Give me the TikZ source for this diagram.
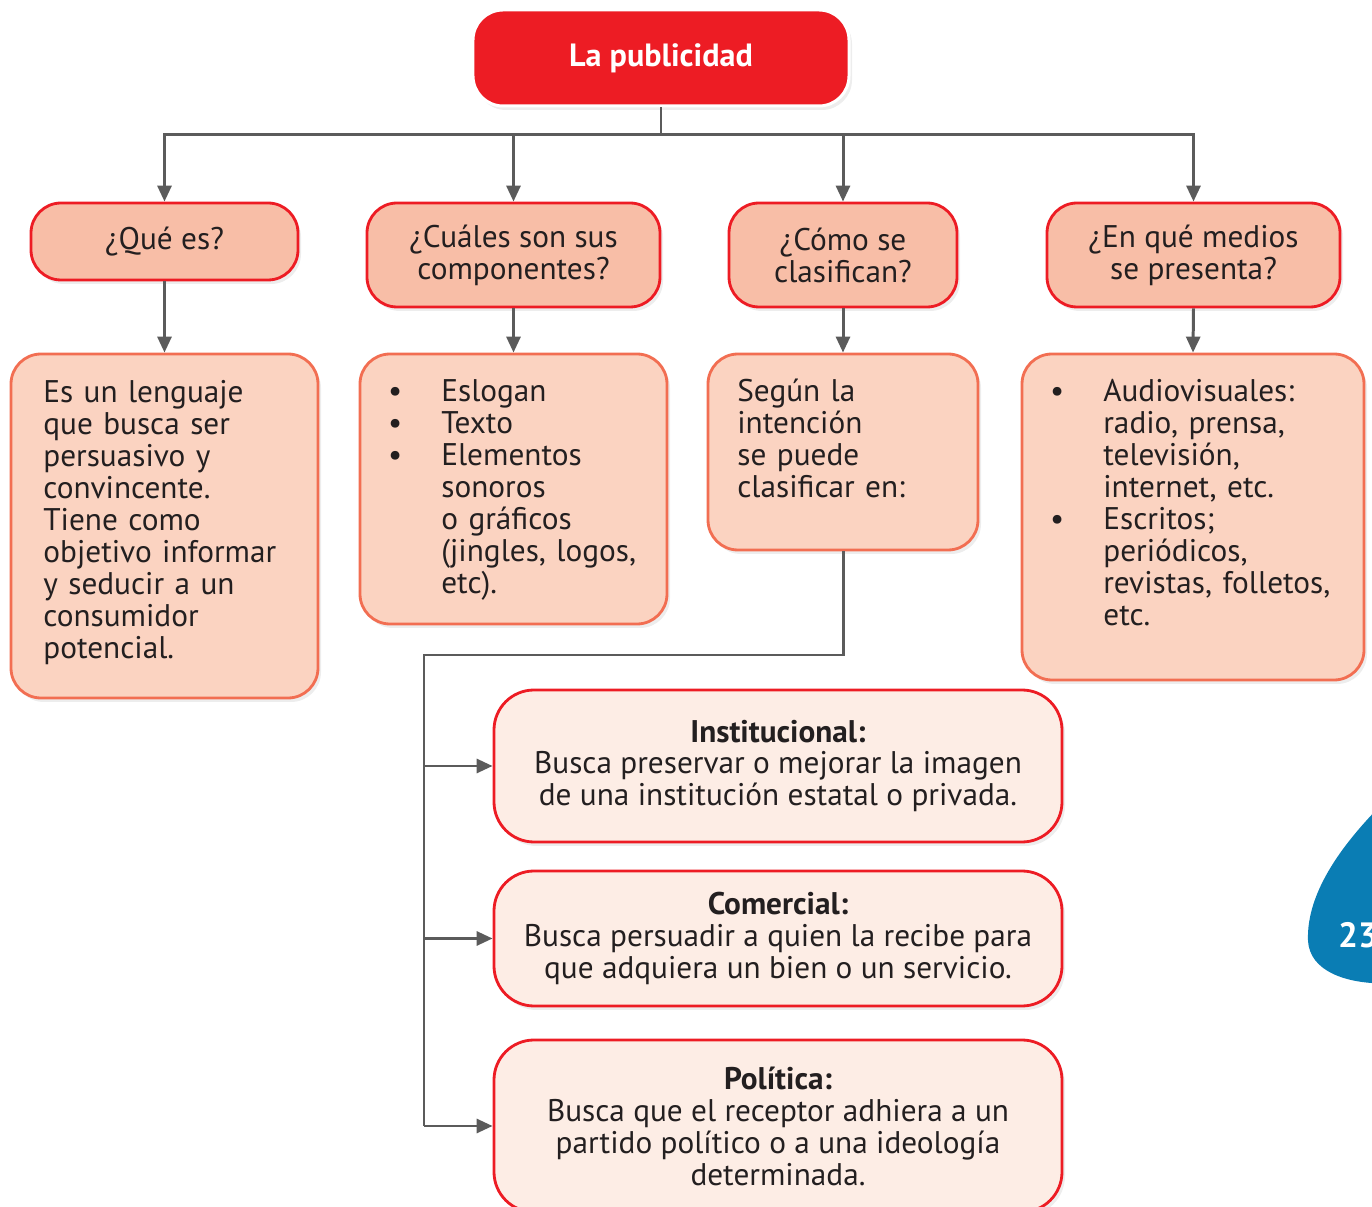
\documentclass[tikz,border=0pt]{standalone}
\usepackage{fontspec}
\setmainfont{PT Sans}
\usepackage{tikz}
\usetikzlibrary{arrows.meta,shadows}

\definecolor{pubred}{HTML}{ED1C24}
\definecolor{qfill}{HTML}{F8BEA7}
\definecolor{afill}{HTML}{FBD3C1}
\definecolor{aline}{HTML}{F26E52}
\definecolor{bfill}{HTML}{FDEDE5}
\definecolor{linegray}{HTML}{5B5B5B}
\definecolor{inkdark}{HTML}{231F20}
\definecolor{tabblue}{HTML}{0A7DB4}

\begin{document}
\begin{tikzpicture}[
      font=\fontsize{17.8}{18.2}\selectfont,
      text=inkdark,
      line/.style={draw=linegray, line width=1.7pt},
      arrow/.style={line, -{Triangle[length=3.2mm,width=2.8mm]}},
      shade/.style={drop shadow={shadow xshift=0.06cm, shadow yshift=-0.08cm, opacity=0.14}},
      titlebox/.style={shade, fill=pubred, draw=white, line width=1.7pt,
        rounded corners=0.6cm, text=white, font=\fontsize{18.3}{18.2}\selectfont\bfseries},
      qbox/.style={shade, fill=qfill, draw=pubred, line width=1.6pt,
        rounded corners=0.6cm, align=center},
      abox/.style={shade, fill=afill, draw=aline, line width=1.6pt, rounded corners=0.6cm},
      bbox/.style={shade, fill=bfill, draw=pubred, line width=1.6pt,
        rounded corners=0.8cm, align=center},
      body/.style={anchor=base west, inner sep=0pt, text width=6.2cm, align=left}
    ]

    \useasboundingbox (0,0) rectangle (27.44,24.12);
    \clip (0,0) rectangle (27.44,24.12);

    % Page tab
    \fill[tabblue] (27.7,8.1) .. controls (26.9,7.3) and (26.12,6.3) .. (26.16,5.3)
      .. controls (26.2,4.7) and (26.9,4.45) .. (27.7,4.45) -- cycle;
    \node[anchor=west, text=white, font=\fontsize{20}{22}\selectfont\bfseries] (page) at (26.64,5.42) {23};

    % Title
    \node[titlebox, minimum width=7.52cm, minimum height=1.92cm] (top) at (13.22,22.96) {La publicidad};
    \coordinate (hub) at (13.22,21.42);

    % Questions
    \node[qbox, minimum width=5.34cm, minimum height=1.54cm] (q1) at (3.29,19.29) {¿Qué es?};
    \node[qbox, minimum width=5.86cm, minimum height=2.08cm] (q2) at (10.27,19.02) {¿Cuáles son sus\\ componentes?};
    \node[qbox, minimum width=4.56cm, minimum height=2.08cm] (q3) at (16.86,19.02) {¿Cómo se\\ clasifican?};
    \node[qbox, minimum width=5.86cm, minimum height=2.08cm] (q4) at (23.87,19.02) {¿En qué medios\\ se presenta?};

    % Answers
    \node[abox, minimum width=6.14cm, minimum height=6.88cm] (a1) at (3.29,13.60) {};
    \node[abox, minimum width=6.14cm, minimum height=5.40cm] (a2) at (10.27,14.34) {};
    \node[abox, minimum width=5.40cm, minimum height=3.92cm] (a3) at (16.86,15.08) {};
    \node[abox, minimum width=6.84cm, minimum height=6.52cm] (a4) at (23.86,13.78) {};

    \node[body] (a1txt) at (0.86,16.06) {Es un lenguaje\\ que busca ser\\ persuasivo y\\ convincente.\\
      Tiene como\\ objetivo informar\\ y seducir a un\\ consumidor\\ potencial.};
    \node[body] (a2txt) at (8.82,16.08) {\leavevmode\llap{\textbullet\hspace{0.78cm}}Eslogan\\
      \leavevmode\llap{\textbullet\hspace{0.78cm}}Texto\\
      \leavevmode\llap{\textbullet\hspace{0.78cm}}Elementos\\ sonoros\\ o gráficos\\ (jingles, logos,\\ etc).};
    \node[body] (a3txt) at (14.74,16.08) {Según la\\ intención\\ se puede\\ clasificar en:};
    \node[body] (a4txt) at (22.06,16.08) {\leavevmode\llap{\textbullet\hspace{0.78cm}}Audiovisuales:\\
      radio, prensa,\\ televisión,\\ internet, etc.\\
      \leavevmode\llap{\textbullet\hspace{0.78cm}}Escritos;\\ periódicos,\\ revistas, folletos,\\ etc.};

    % Kinds
    \node[bbox, minimum width=11.36cm, minimum height=3.04cm] (b1) at (15.56,8.80)
      {\textbf{Institucional:}\\ Busca preservar o mejorar la imagen\\ de una institución estatal o privada.};
    \node[bbox, minimum width=11.36cm, minimum height=2.70cm] (b2) at (15.56,5.35)
      {\textbf{Comercial:}\\ Busca persuadir a quien la recibe para\\ que adquiera un bien o un servicio.};
    \node[bbox, minimum width=11.36cm, minimum height=3.44cm] (b3) at (15.56,1.60)
      {\textbf{Política:}\\ Busca que el receptor adhiera a un\\ partido político o a una ideología\\ determinada.};
    \coordinate (turn) at (8.48,11.02);

    % Connectors
    \draw[line] (top.south) -- (hub);
    \draw[arrow] (hub) -| (q1.north);
    \draw[arrow] (hub) -| (q2.north);
    \draw[arrow] (hub) -| (q3.north);
    \draw[arrow] (hub) -| (q4.north);

    \draw[arrow] (q1.south) -- (a1.north);
    \draw[arrow] (q2.south) -- (a2.north);
    \draw[arrow] (q3.south) -- (a3.north);
    \draw[arrow] (q4.south) -- (a4.north);

    \draw[line] (a3.south) |- (turn) -- (turn |- b3.west);
    \draw[arrow] (turn |- b1.west) -- (b1.west);
    \draw[arrow] (turn |- b2.west) -- (b2.west);
    \draw[arrow] (turn |- b3.west) -- (b3.west);

  \end{tikzpicture}
\end{document}
